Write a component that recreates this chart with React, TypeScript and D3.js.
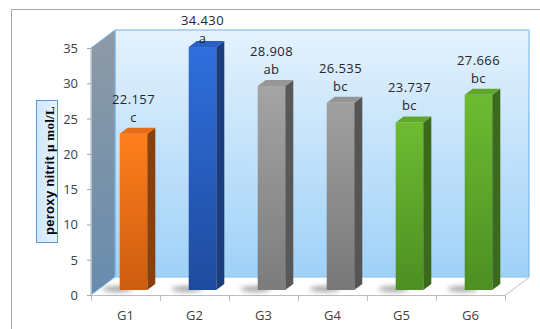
import React from "react";
import * as d3 from "d3";

const categories = ["G1", "G2", "G3", "G4", "G5", "G6"];
const values = [22.157, 34.43, 28.908, 26.535, 23.737, 27.666];
const letters = ["c", "a", "ab", "bc", "bc", "bc"];
const yTicks = [0, 5, 10, 15, 20, 25, 30, 35];

type Palette = { top: string; bottom: string; side: string; lid: string };
const palettes: Palette[] = [
  { top: "#ff7f1c", bottom: "#cc5c0f", side: "#8a400b", lid: "#e96c14" },
  { top: "#2f6fdd", bottom: "#1f4b9e", side: "#1b3c7e", lid: "#2a60c4" },
  { top: "#a4a4a4", bottom: "#7c7c7c", side: "#585858", lid: "#979797" },
  { top: "#a0a0a0", bottom: "#787878", side: "#555555", lid: "#949494" },
  { top: "#6dbb32", bottom: "#4d8f23", side: "#3b6a1b", lid: "#5fa82a" },
  { top: "#6dbb32", bottom: "#4d8f23", side: "#3b6a1b", lid: "#5fa82a" },
];

const W = 540;
const H = 329;
const left = 91;
const right = 505;
const floorY = 295;
const topY = 48;
const DX = 24;
const DY = -18;
// bar placement inside the depth of the floor
const barDX0 = 8;
const barDY0 = -5;
const barDepthX = 8;
const barDepthY = -6;

const font = "'Open Sans', 'Liberation Sans', sans-serif";

export default function App() {
  const x = d3
    .scaleBand<string>()
    .domain(categories)
    .range([left, right])
    .paddingInner(0.6)
    .paddingOuter(0.3);
  const y = d3.scaleLinear().domain([0, 35]).range([floorY, topY]);
  const bw = x.bandwidth();
  const step = x.step();
  const bounds = d3.range(categories.length + 1).map((i) => left + i * step);

  return (
    <svg
      width={W}
      height={H}
      style={{ position: "absolute", left: 0, top: 0 }}
      fontFamily={font}
    >
      <defs>
        <linearGradient id="backWall" x1="0" y1="0" x2="0" y2="1">
          <stop offset="0" stopColor="#e4f2fd" />
          <stop offset="1" stopColor="#9fd1f8" />
        </linearGradient>
        <linearGradient id="sideWall" x1="0" y1="0" x2="0" y2="1">
          <stop offset="0" stopColor="#8e9aa6" />
          <stop offset="1" stopColor="#678cae" />
        </linearGradient>
        <linearGradient id="titleBox" x1="0" y1="0" x2="1" y2="0">
          <stop offset="0" stopColor="#cfe7fb" />
          <stop offset="1" stopColor="#e8f4fe" />
        </linearGradient>
        {palettes.map((p, i) => (
          <linearGradient key={i} id={`front${i}`} x1="0" y1="0" x2="0" y2="1">
            <stop offset="0" stopColor={p.top} />
            <stop offset="1" stopColor={p.bottom} />
          </linearGradient>
        ))}
        <filter id="soft" x="-50%" y="-200%" width="200%" height="500%">
          <feGaussianBlur stdDeviation="2.5" />
        </filter>
      </defs>

      <rect width={W} height={H} fill="#ffffff" />
      {/* outer frame */}
      <path d={`M11.5,${H} V9.5 H${W}`} fill="none" stroke="#a6a6a6" strokeWidth={1} />

      {/* walls and floor */}
      <polygon
        points={`${left + DX},${y(35) + DY} ${right + DX},${y(35) + DY} ${right + DX},${floorY + DY} ${left + DX},${floorY + DY}`}
        fill="url(#backWall)"
        stroke="#6fb0e4"
        strokeWidth={1}
      />
      <polygon
        points={`${left},${y(35)} ${left + DX},${y(35) + DY} ${left + DX},${floorY + DY} ${left},${floorY}`}
        fill="url(#sideWall)"
        stroke="#7fb6e2"
        strokeWidth={1}
      />
      <polygon
        points={`${left},${floorY} ${right},${floorY} ${right + DX},${floorY + DY} ${left + DX},${floorY + DY}`}
        fill="#ffffff"
        stroke="none"
      />
      <line x1={left + DX} x2={right + DX} y1={floorY + DY} y2={floorY + DY} stroke="#9fd1f8" strokeWidth={1.5} />
      <line x1={left} x2={right} y1={floorY + 0.5} y2={floorY + 0.5} stroke="#bdbdbd" strokeWidth={1} />
      <line x1={right} x2={right + DX} y1={floorY + 0.5} y2={floorY + DY + 0.5} stroke="#bdbdbd" strokeWidth={1} />
      <line x1={left} x2={left + DX} y1={floorY} y2={floorY + DY} stroke="#7fb6e2" strokeWidth={1} />

      {/* y axis ticks and labels */}
      <line x1={left + 0.5} x2={left + 0.5} y1={y(35)} y2={floorY} stroke="#bdbdbd" />
      {yTicks.map((t) => (
        <g key={t}>
          <line x1={left - 4} x2={left} y1={y(t) + 0.5} y2={y(t) + 0.5} stroke="#a6a6a6" />
          <text x={78} y={y(t) + 5} fontSize={13} textAnchor="end" fill="#404040">
            {t}
          </text>
        </g>
      ))}

      {/* x axis ticks and labels */}
      {bounds.map((b, i) => (
        <line key={i} x1={b + 0.5} x2={b + 0.5} y1={floorY} y2={floorY + 6} stroke="#bdbdbd" />
      ))}
      {categories.map((c) => (
        <text
          key={c}
          x={(x(c) ?? 0) + bw / 2}
          y={320}
          fontSize={13}
          textAnchor="middle"
          fill="#404040"
        >
          {c}
        </text>
      ))}

      {/* bars */}
      {categories.map((c, i) => {
        const x0 = (x(c) ?? 0) + barDX0;
        const x1 = x0 + bw;
        const yb = floorY + barDY0;
        const yt = y(values[i]) + barDY0;
        const p = palettes[i];
        return (
          <g key={c}>
            <ellipse
              cx={x0 - 2}
              cy={yb - 1}
              rx={bw * 0.55}
              ry={3}
              fill="#000"
              opacity={0.35}
              filter="url(#soft)"
            />
            <rect x={x0} y={yt} width={bw} height={yb - yt} fill={`url(#front${i})`} />
            <polygon
              points={`${x1},${yt} ${x1 + barDepthX},${yt + barDepthY} ${x1 + barDepthX},${yb + barDepthY} ${x1},${yb}`}
              fill={p.side}
            />
            <polygon
              points={`${x0},${yt} ${x0 + barDepthX},${yt + barDepthY} ${x1 + barDepthX},${yt + barDepthY} ${x1},${yt}`}
              fill={p.lid}
            />
          </g>
        );
      })}

      {/* value and significance labels */}
      {categories.map((c, i) => {
        const cx = (x(c) ?? 0) + barDX0 + bw / 2;
        const yt = y(values[i]) + barDY0;
        const vBase = Math.max(yt - 30, 25);
        const lBase = Math.max(yt - 12, 43);
        return (
          <g key={c} fontSize={13} letterSpacing={0.4} fill="#262626" textAnchor="middle">
            <text x={cx} y={vBase}>
              {values[i].toFixed(3)}
            </text>
            <text x={cx} y={lBase}>
              {letters[i]}
            </text>
          </g>
        );
      })}

      {/* axis title */}
      <rect x={36.5} y={100.5} width={21} height={142} fill="url(#titleBox)" stroke="#5b9bd5" strokeWidth={1} />
      <text
        transform="translate(53.5,170.5) rotate(-90)"
        textAnchor="middle"
        fontSize={13}
        fontWeight="bold"
        fill="#000"
        letterSpacing={0.3}
        fontFamily="'Liberation Sans', Arial, sans-serif"
      >
        peroxy nitrit{" "}
        <tspan fontFamily="'Liberation Serif', serif">µ mol/L</tspan>
      </text>
    </svg>
  );
}
